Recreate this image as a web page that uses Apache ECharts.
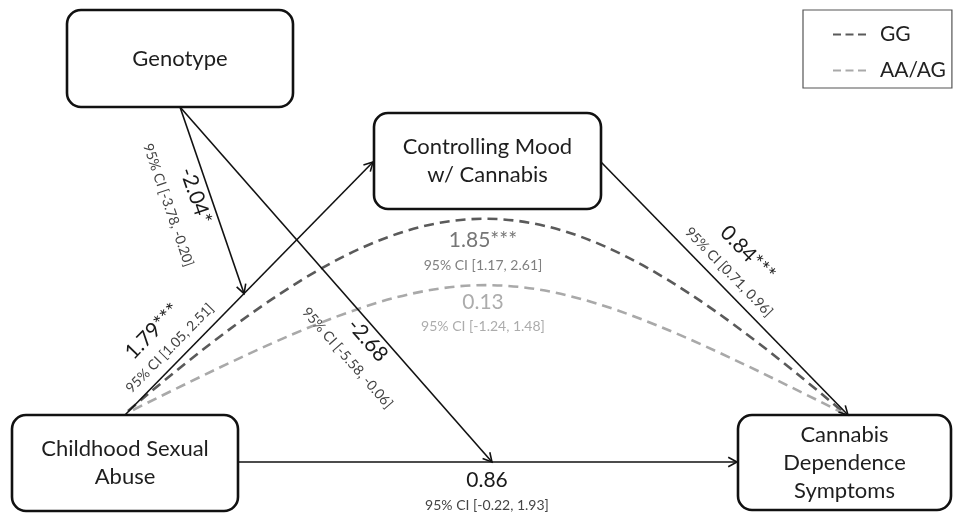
<!DOCTYPE html>
<html>
<head>
<meta charset="utf-8">
<script src="https://cdn.jsdelivr.net/npm/echarts@6/dist/echarts.min.js"></script>
<style>
  html, body { margin: 0; padding: 0; background: #fff; }
  #chart { width: 955px; height: 514px; }
</style>
</head>
<body>
<div id="chart"></div>
<script>
// Moderated mediation model: childhood sexual abuse -> controlling mood with cannabis
// -> cannabis dependence symptoms, with genotype moderating the a and c' paths.

// Variables in the model
const nodeNames = ['Genotype', 'Controlling Mood\nw/ Cannabis', 'Childhood Sexual\nAbuse', 'Cannabis\nDependence\nSymptoms'];

// Direct paths: coefficient and 95% confidence interval
const pathCoefs = ['1.79***', '0.84***', '0.86', '-2.04*', '-2.68'];
const pathCIs = ['[1.05, 2.51]', '[0.71, 0.96]', '[-0.22, 1.93]', '[-3.78, -0.20]', '[-5.58, -0.06]'];

// Indirect effect for each genotype group
const groupNames = ['GG', 'AA/AG'];
const indirectCoefs = ['1.85***', '0.13'];
const indirectCIs = ['[1.17, 2.61]', '[-1.24, 1.48]'];

// ---- layout (diagram units, one unit per pixel) ----
const boxRects = [[67, 10, 226, 97], [374, 113, 227, 96], [12, 415, 226, 96], [738, 415, 213, 95]];

// from / to points; a target may sit part-way along another path
const pathEnds = [
  { from: [125, 415], to: [373, 162] },            // a
  { from: [601, 162], to: [848, 415] },            // b
  { from: [238, 462], to: [737, 462] },            // c'
  { from: [180, 107], onPath: 0, t: 0.48 },        // genotype -> a
  { from: [180, 107], onPath: 2, t: 0.509 }        // genotype -> c'
];
// label placement: distance along the path, perpendicular offsets of coefficient and CI
const pathLabelPos = [
  [79, 39, 14.6], [168, 41, 14.6], [249, -18, -43], [89, -14, -43], [299, -13, -40]
];
pathEnds.forEach(p => {
  if (p.onPath !== undefined) {
    const h = pathEnds[p.onPath];
    p.to = [h.from[0] + (h.to[0] - h.from[0]) * p.t, h.from[1] + (h.to[1] - h.from[1]) * p.t];
  }
});

// indirect-effect curves (cubic Bezier) and the label anchor above each
const curveGeom = [
  { p: [[128, 411], [430, 154], [541, 155], [843, 412]], coefAt: [483, 240], ciAt: [483, 265] },
  { p: [[133, 410], [470, 242], [506, 244], [843, 413]], coefAt: [483, 302], ciAt: [483, 326] }
];
const curveColors = ['#5a5a5a', '#a9a9a9'];
const curveTextColors = [['#767676', '#808080'], ['#acacac', '#acacac']];

const FONT = 'Lato';

function arrowHead(tip, ux, uy) {
  const L = 10, s = Math.sin(0.5), c = Math.cos(0.5);
  const bx = -ux, by = -uy;
  const r1 = [tip[0] + L * (bx * c - by * s), tip[1] + L * (bx * s + by * c)];
  const r2 = [tip[0] + L * (bx * c + by * s), tip[1] + L * (-bx * s + by * c)];
  return [r1, tip, r2];
}

function renderBox(params, api) {
  const i = api.value(0);
  const r = boxRects[i];
  const p = api.coord([r[0], r[1]]);
  const sz = api.size([r[2], r[3]]);
  return {
    type: 'group',
    children: [
      { type: 'rect', shape: { x: p[0], y: p[1], width: sz[0], height: sz[1], r: 14 },
        style: { fill: '#fff', stroke: '#111', lineWidth: 2.6 } },
      { type: 'text', x: p[0] + sz[0] / 2, y: p[1] + sz[1] / 2,
        style: { text: nodeNames[i], font: '22px ' + FONT, fill: '#1e1e1e', align: 'center',
                 verticalAlign: 'middle', lineHeight: 28 } }
    ]
  };
}

function renderPath(params, api) {
  const i = api.value(0);
  const g = pathEnds[i];
  const lp = pathLabelPos[i];
  const p0 = api.coord(g.from), p1 = api.coord(g.to);
  const dx = p1[0] - p0[0], dy = p1[1] - p0[1], len = Math.hypot(dx, dy);
  const ux = dx / len, uy = dy / len, nx = uy, ny = -ux;
  const rot = -Math.atan2(uy, ux);
  const at = (s, off) => [p0[0] + ux * s + nx * off, p0[1] + uy * s + ny * off];
  const c = at(lp[0], lp[1]), ci = at(lp[0], lp[2]);
  return {
    type: 'group',
    children: [
      { type: 'line', shape: { x1: p0[0], y1: p0[1], x2: p1[0], y2: p1[1] },
        style: { stroke: '#111', lineWidth: 1.6 } },
      { type: 'polyline', shape: { points: arrowHead(p1, ux, uy) },
        style: { stroke: '#111', lineWidth: 1.6, fill: null } },
      { type: 'text', x: c[0], y: c[1], rotation: rot,
        style: { text: pathCoefs[i], font: '21px ' + FONT, fill: '#1a1a1a', align: 'center', verticalAlign: 'middle' } },
      { type: 'text', x: ci[0], y: ci[1], rotation: rot,
        style: { text: '95% CI ' + pathCIs[i], font: '14px ' + FONT, fill: '#444', align: 'center', verticalAlign: 'middle' } }
    ]
  };
}

function makeCurveRenderer(k) {
  return function (params, api) {
    const g = curveGeom[k];
    const q = g.p.map(pt => api.coord(pt));
    const a = api.coord(g.coefAt), b = api.coord(g.ciAt);
    return {
      type: 'group',
      children: [
        { type: 'bezierCurve',
          shape: { x1: q[0][0], y1: q[0][1], cpx1: q[1][0], cpy1: q[1][1], cpx2: q[2][0], cpy2: q[2][1], x2: q[3][0], y2: q[3][1] },
          style: { stroke: curveColors[k], lineWidth: 2.6, lineDash: [10, 6], fill: null } },
        { type: 'text', x: a[0], y: a[1],
          style: { text: indirectCoefs[k], font: '21px ' + FONT, fill: curveTextColors[k][0], align: 'center', verticalAlign: 'middle' } },
        { type: 'text', x: b[0], y: b[1],
          style: { text: '95% CI ' + indirectCIs[k], font: '14px ' + FONT, fill: curveTextColors[k][1], align: 'center', verticalAlign: 'middle' } }
      ]
    };
  };
}

const dashIcon = 'path://M0,0h8v2h-8z M12.5,0h8v2h-8z M25,0h8v2h-8z';

const chart = echarts.init(document.getElementById('chart'), null, { renderer: 'canvas' });
chart.setOption({
  animation: false,
  backgroundColor: '#fff',
  grid: { left: 0, right: 0, top: 0, bottom: 0 },
  xAxis: { type: 'value', min: 0, max: 955, show: false },
  yAxis: { type: 'value', min: 0, max: 514, inverse: true, show: false },
  legend: {
    data: groupNames.map(n => ({ name: n, icon: dashIcon })),
    orient: 'vertical',
    left: 803,
    top: 10,
    padding: [14, 6, 7, 30],
    itemWidth: 33,
    itemHeight: 2,
    itemGap: 15,
    borderColor: '#555',
    borderWidth: 1.2,
    selectedMode: false,
    textStyle: { fontFamily: FONT, fontSize: 21, color: '#222', padding: [0, 0, 0, 9] }
  },
  series: [
    { type: 'custom', name: 'boxes', coordinateSystem: 'cartesian2d', z: 1,
      data: nodeNames.map((n, i) => [i]), renderItem: renderBox, silent: true },
    { type: 'custom', name: groupNames[0], coordinateSystem: 'cartesian2d', z: 2,
      itemStyle: { color: curveColors[0] }, data: [[0]], renderItem: makeCurveRenderer(0), silent: true },
    { type: 'custom', name: groupNames[1], coordinateSystem: 'cartesian2d', z: 2,
      itemStyle: { color: curveColors[1] }, data: [[1]], renderItem: makeCurveRenderer(1), silent: true },
    { type: 'custom', name: 'paths', coordinateSystem: 'cartesian2d', z: 3,
      data: pathCoefs.map((c, i) => [i]), renderItem: renderPath, silent: true }
  ]
});
</script>
</body>
</html>
